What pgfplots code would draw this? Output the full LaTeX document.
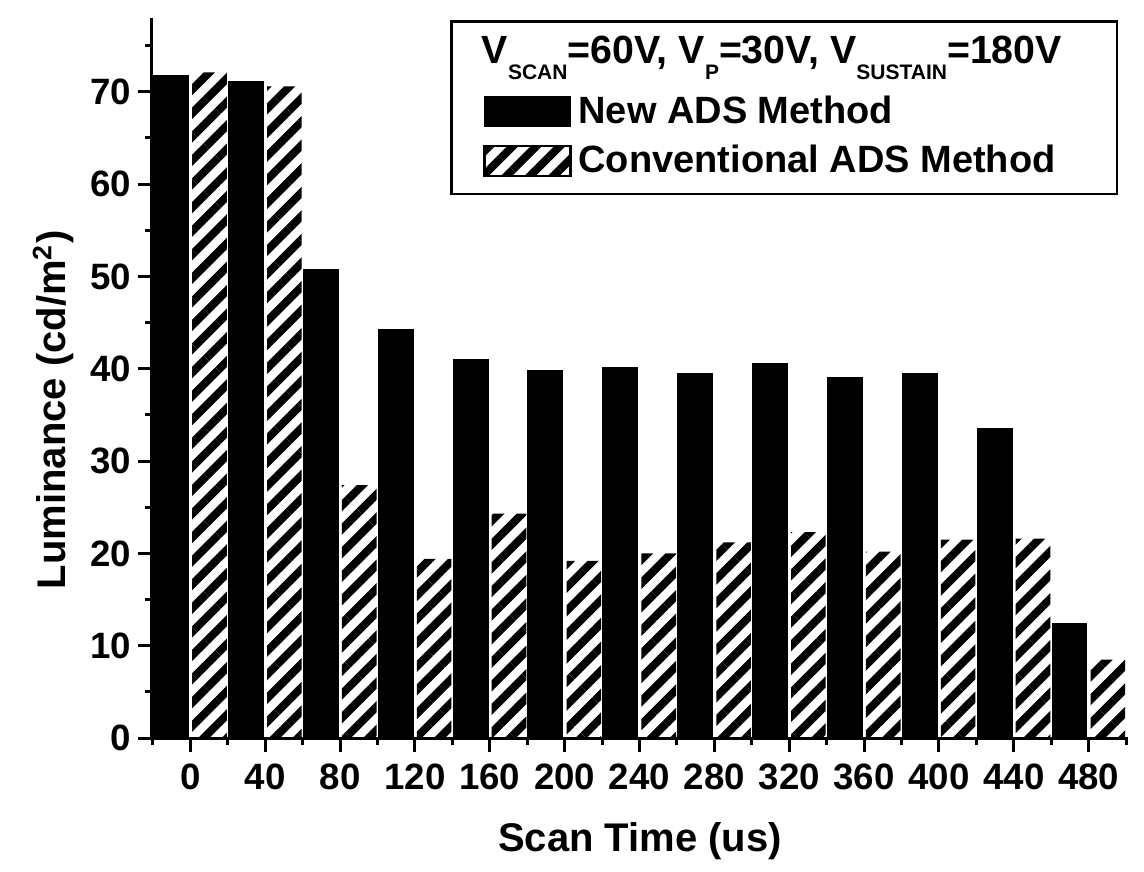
\documentclass[border=0pt]{standalone}
\usepackage{fontspec}
\setmainfont{Liberation Sans}
\usepackage{pgfplots}
\pgfplotsset{compat=1.18}
\usetikzlibrary{patterns.meta}

% low, small subscript as in the legend title
\newcommand{\sub}[1]{\raisebox{-4.6pt}{\fontsize{6.3}{7}\selectfont #1}}

\begin{document}
\begin{tikzpicture}
\begin{axis}[
    scale only axis,
    width=292.8pt, height=216pt,
    xmin=-20.5, xmax=501,
    ymin=0, ymax=78,
    clip=false,
    axis x line*=bottom,
    axis y line*=left,
    axis line style={-, line width=0.9pt},
    every tick/.style={black, line width=0.9pt},
    tick align=outside,
    major tick length=4.2pt,
    minor tick length=2.2pt,
    xtick={0,40,...,480},
    minor xtick={-20,20,...,500},
    ytick={0,10,...,70},
    minor ytick={5,15,...,75},
    /pgf/number format/assume math mode=true,
    ticklabel style={font=\bfseries\fontsize{11}{13}\selectfont},
    yticklabel style={xshift=1.5pt},
    label style={font=\bfseries\fontsize{12}{14}\selectfont},
    xlabel={Scan Time (us)},
    xlabel style={yshift=-3pt},
    ylabel={Luminance (cd/m\textsuperscript{2})},
    ylabel style={at={(ticklabel cs:0.456,-2pt)}},
    ybar,
    bar width=18.5,
    legend cell align=left,
    legend image code/.code={\draw[#1] (0pt,-4.5pt) rectangle (25.8pt,4.5pt);},
    legend style={at={(rel axis cs:0.99,0.997)}, anchor=north east,
        draw=black, line width=0.8pt,
        font=\bfseries\fontsize{11.4}{13}\selectfont,
        inner xsep=9.5pt, inner ysep=3pt, row sep=1pt},
]
\addlegendimage{empty legend}
\addlegendentry{\hspace{-29pt}\raisebox{3pt}[10.7pt][3pt]{\fontsize{11.8}{13}\selectfont
    V\sub{SCAN}=60V, V\sub{P}=30V, V\sub{SUSTAIN}=180V}\rule{5pt}{0pt}}

\addplot[bar shift=-10.25, fill=black, draw=black, line width=0.4pt] coordinates {
    (0,71.7) (40,71.1) (80,50.7) (120,44.2) (160,41.0) (200,39.8) (240,40.1)
    (280,39.5) (320,40.6) (360,39.0) (400,39.5) (440,33.5) (480,12.4)
};
\addlegendentry{New ADS Method}

\addplot[bar shift=10.25, draw=none, pattern color=black,
    pattern={Lines[angle=45, distance=5pt, line width=2.4pt]}] coordinates {
    (0,72.1) (40,70.6) (80,27.4) (120,19.4) (160,24.3) (200,19.2) (240,20.0)
    (280,21.2) (320,22.3) (360,20.2) (400,21.5) (440,21.6) (480,8.5)
};
\addlegendentry{Conventional ADS Method}

\path (rel axis cs:-0.1557,-0.175) rectangle (rel axis cs:1.0164,1.025);
\end{axis}
\end{tikzpicture}
\end{document}
